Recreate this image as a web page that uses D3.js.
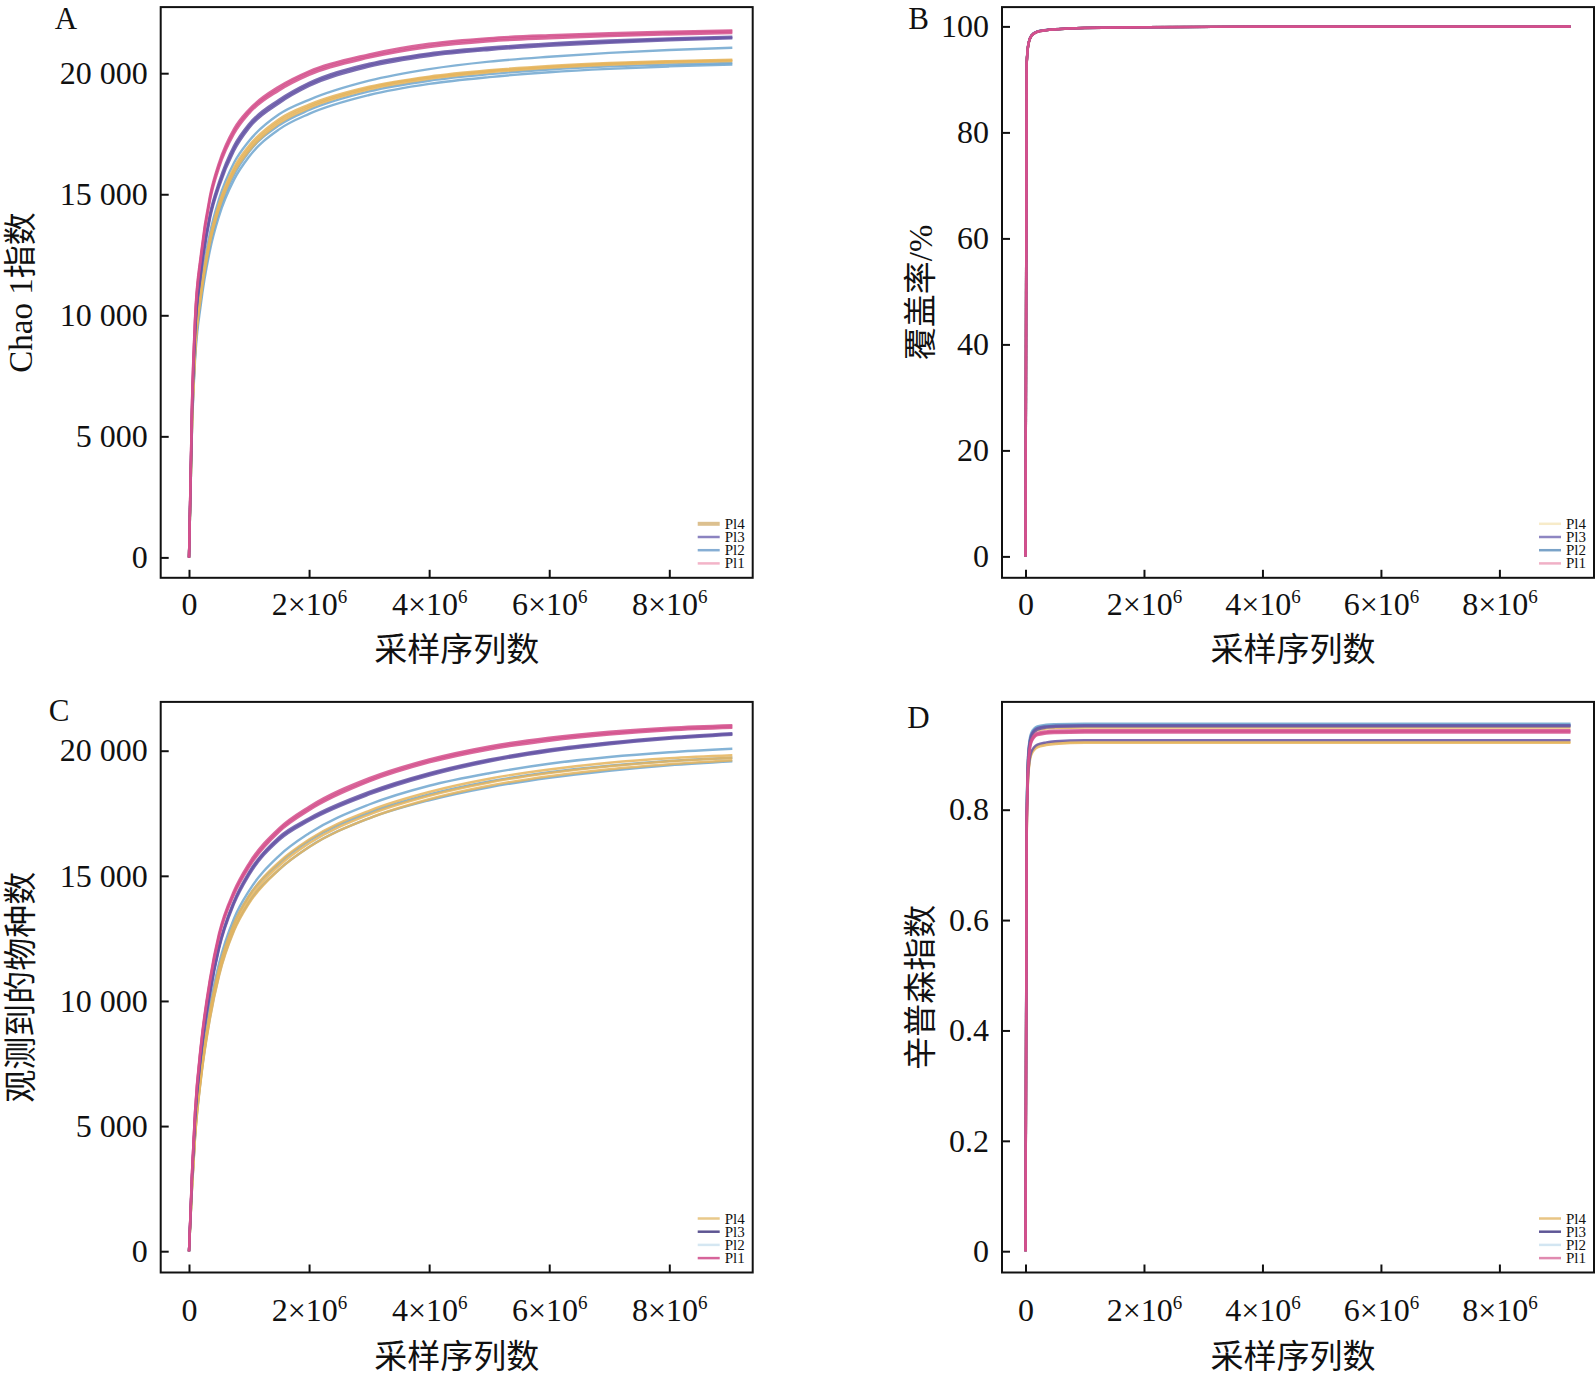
<!DOCTYPE html>
<html>
<head>
<meta charset="utf-8">
<script src="https://cdn.jsdelivr.net/npm/d3@7"></script>
<style>
  body { margin: 0; background: #fff; }
  text { font-family: "Liberation Serif", "Noto Sans CJK SC", serif; fill: #111; }
</style>
</head>
<body>
<script>
// sampling depth (x 10^6 reads)
var depthsAC = [0, 0.05, 0.1, 0.2, 0.35, 0.5, 0.75, 1, 1.5, 2, 3, 4, 5, 6, 7, 8, 9.05];
var depthsBD = [0, 0.02, 0.05, 0.1, 0.2, 0.35, 0.5, 1, 2, 4, 6, 9.2];

var groups = ['Pl4', 'Pl3', 'Pl2', 'Pl1'];

// A - Chao 1
var chaoPl1 = [
  [0, 6500, 9900, 12560, 14950, 16300, 17700, 18500, 19450, 20080, 20780, 21220, 21450, 21570, 21650, 21715, 21770],
  [0, 6400, 9800, 12450, 14850, 16200, 17600, 18420, 19370, 20010, 20710, 21150, 21390, 21510, 21590, 21660, 21720],
  [0, 6300, 9700, 12350, 14750, 16100, 17500, 18340, 19290, 19930, 20640, 21080, 21320, 21440, 21530, 21600, 21660]
];
var chaoPl2 = [
  [0, 5600, 8700, 11200, 13400, 14800, 16300, 17200, 18300, 18900, 19690, 20170, 20480, 20680, 20840, 20960, 21050],
  [0, 5400, 8300, 10700, 12900, 14300, 15800, 16750, 17850, 18480, 19250, 19690, 19960, 20150, 20280, 20360, 20420],
  [0, 5300, 8100, 10500, 12700, 14100, 15600, 16550, 17680, 18320, 19100, 19560, 19840, 20040, 20180, 20280, 20360]
];
var chaoPl3 = [
  [0, 6100, 9300, 11900, 14200, 15500, 17000, 17900, 18900, 19600, 20390, 20820, 21060, 21230, 21350, 21440, 21510],
  [0, 6000, 9200, 11800, 14100, 15400, 16900, 17820, 18830, 19540, 20330, 20770, 21010, 21180, 21300, 21400, 21470],
  [0, 5950, 9150, 11700, 14000, 15300, 16800, 17740, 18760, 19470, 20270, 20710, 20960, 21130, 21260, 21360, 21440]
];
var chaoPl4 = [
  [0, 5500, 8500, 11000, 13200, 14600, 16100, 17000, 18100, 18700, 19440, 19860, 20120, 20300, 20420, 20500, 20560],
  [0, 5450, 8450, 10900, 13100, 14500, 16000, 16900, 18020, 18630, 19390, 19820, 20080, 20260, 20390, 20470, 20530],
  [0, 5400, 8350, 10800, 13000, 14400, 15900, 16800, 17930, 18560, 19330, 19770, 20040, 20220, 20350, 20440, 20500]
];

// B - coverage (%)
var covPl1 = [
  [0, 93.0, 96.8, 98.3, 99.0, 99.3, 99.45, 99.72, 99.86, 99.93, 99.95, 99.97],
  [0, 92.8, 96.7, 98.2, 98.95, 99.28, 99.43, 99.71, 99.85, 99.92, 99.95, 99.96],
  [0, 92.9, 96.7, 98.25, 98.98, 99.3, 99.44, 99.72, 99.86, 99.93, 99.95, 99.97]
];
var covPl2 = [
  [0, 93.2, 96.9, 98.35, 99.05, 99.32, 99.47, 99.73, 99.87, 99.93, 99.96, 99.97],
  [0, 93.0, 96.8, 98.3, 99.0, 99.3, 99.45, 99.72, 99.86, 99.93, 99.95, 99.97],
  [0, 92.7, 96.6, 98.2, 98.95, 99.27, 99.43, 99.7, 99.85, 99.92, 99.95, 99.96]
];
var covPl3 = [
  [0, 93.1, 96.8, 98.3, 99.02, 99.31, 99.46, 99.72, 99.86, 99.93, 99.95, 99.97],
  [0, 92.9, 96.7, 98.25, 98.98, 99.29, 99.44, 99.71, 99.85, 99.92, 99.95, 99.96],
  [0, 92.8, 96.7, 98.22, 98.97, 99.28, 99.44, 99.71, 99.85, 99.92, 99.95, 99.96]
];
var covPl4 = [
  [0, 93.0, 96.8, 98.3, 99.0, 99.3, 99.45, 99.72, 99.86, 99.93, 99.95, 99.97],
  [0, 92.9, 96.7, 98.26, 98.98, 99.29, 99.44, 99.71, 99.86, 99.93, 99.95, 99.97],
  [0, 92.8, 96.6, 98.2, 98.95, 99.27, 99.43, 99.7, 99.85, 99.92, 99.95, 99.96]
];

// C - observed species
var obsPl1 = [
  [0, 3200, 5600, 8300, 10900, 12700, 14400, 15500, 16900, 17760, 18900, 19650, 20170, 20520, 20760, 20920, 21020],
  [0, 3150, 5550, 8230, 10820, 12620, 14320, 15420, 16830, 17690, 18830, 19590, 20110, 20460, 20700, 20870, 20970],
  [0, 3100, 5500, 8170, 10750, 12550, 14250, 15350, 16760, 17620, 18770, 19530, 20050, 20400, 20650, 20820, 20920]
];
var obsPl2 = [
  [0, 2700, 4800, 7300, 9800, 11500, 13300, 14400, 15800, 16700, 17850, 18600, 19100, 19480, 19750, 19940, 20080],
  [0, 2650, 4700, 7150, 9600, 11300, 13100, 14200, 15500, 16400, 17520, 18250, 18770, 19140, 19400, 19590, 19720],
  [0, 2550, 4550, 6950, 9350, 11050, 12850, 13950, 15250, 16150, 17300, 18020, 18540, 18920, 19200, 19420, 19580]
];
var obsPl3 = [
  [0, 3000, 5300, 7900, 10400, 12200, 14000, 15150, 16550, 17300, 18350, 19100, 19650, 20050, 20330, 20540, 20700],
  [0, 2970, 5260, 7850, 10340, 12140, 13940, 15090, 16490, 17250, 18300, 19060, 19610, 20010, 20300, 20510, 20670],
  [0, 2940, 5220, 7800, 10280, 12080, 13880, 15030, 16430, 17200, 18250, 19010, 19570, 19970, 20260, 20480, 20640]
];
var obsPl4 = [
  [0, 2600, 4700, 7100, 9600, 11300, 13100, 14200, 15550, 16450, 17600, 18350, 18880, 19250, 19520, 19700, 19820],
  [0, 2550, 4600, 7000, 9450, 11150, 12950, 14050, 15400, 16300, 17450, 18200, 18730, 19110, 19380, 19580, 19720],
  [0, 2500, 4500, 6900, 9300, 11000, 12800, 13900, 15250, 16150, 17300, 18060, 18600, 18980, 19260, 19460, 19620]
];

// D - Simpson
var simPl1 = [
  [0, 0.77, 0.89, 0.927, 0.939, 0.942, 0.943, 0.944, 0.944, 0.944, 0.944, 0.944],
  [0, 0.77, 0.885, 0.924, 0.937, 0.940, 0.941, 0.942, 0.942, 0.942, 0.942, 0.942],
  [0, 0.76, 0.88, 0.922, 0.935, 0.938, 0.939, 0.940, 0.940, 0.940, 0.940, 0.940]
];
var simPl2 = [
  [0, 0.80, 0.91, 0.94, 0.951, 0.954, 0.955, 0.956, 0.956, 0.956, 0.956, 0.956],
  [0, 0.79, 0.905, 0.937, 0.949, 0.952, 0.953, 0.954, 0.954, 0.954, 0.954, 0.954],
  [0, 0.79, 0.90, 0.935, 0.947, 0.950, 0.951, 0.952, 0.952, 0.952, 0.952, 0.952]
];
var simPl3 = [
  [0, 0.79, 0.905, 0.936, 0.948, 0.951, 0.952, 0.953, 0.953, 0.953, 0.953, 0.953],
  [0, 0.78, 0.90, 0.933, 0.945, 0.949, 0.950, 0.951, 0.951, 0.951, 0.951, 0.951],
  [0, 0.75, 0.87, 0.905, 0.918, 0.922, 0.924, 0.926, 0.926, 0.926, 0.926, 0.926]
];
var simPl4 = [
  [0, 0.78, 0.90, 0.932, 0.944, 0.947, 0.948, 0.949, 0.949, 0.949, 0.949, 0.949],
  [0, 0.74, 0.865, 0.900, 0.913, 0.917, 0.919, 0.921, 0.921, 0.921, 0.921, 0.921],
  [0, 0.745, 0.868, 0.903, 0.916, 0.920, 0.922, 0.923, 0.923, 0.923, 0.923, 0.923]
];

// ticks
var xTicks = [0, 2, 4, 6, 8];
var chaoTicks = [0, 5000, 10000, 15000, 20000];
var chaoLabels = ['0', '5 000', '10 000', '15 000', '20 000'];
var covTicks = [0, 20, 40, 60, 80, 100];
var covLabels = ['0', '20', '40', '60', '80', '100'];
var simTicks = [0, 0.2, 0.4, 0.6, 0.8];
var simLabels = ['0', '0.2', '0.4', '0.6', '0.8'];

var lineColors = { Pl1: '#d4508c', Pl2: '#6ea6cf', Pl3: '#6656a6', Pl4: '#e5b45c' };

var svg = d3.select('body').append('svg')
  .attr('width', 1595)
  .attr('height', 1378);

var panels = [
  { tag: 'A', l: 160.7, r: 752.7, t: 7.1, b: 577.8, x0: 189, x8: 669.3, y0: 557.4, yTop: 73.2,
    depths: depthsAC, series: { Pl1: chaoPl1, Pl2: chaoPl2, Pl3: chaoPl3, Pl4: chaoPl4 },
    ticks: chaoTicks, labels: chaoLabels, ytitle: 'Chao 1指数', tagX: 66, tagY: 29, lowShift: 0,
    legend: { Pl4: ['#dcc08f', 4], Pl3: ['#8b83c0', 2.5], Pl2: ['#86aed4', 2.5], Pl1: ['#f3b4c8', 2.5] } },
  { tag: 'B', l: 1002, r: 1594, t: 7.1, b: 577.8, x0: 1025.5, x8: 1499.4, y0: 556.4, yTop: 26.4,
    depths: depthsBD, series: { Pl1: covPl1, Pl2: covPl2, Pl3: covPl3, Pl4: covPl4 },
    ticks: covTicks, labels: covLabels, ytitle: '覆盖率/%', tagX: 918.5, tagY: 29, lowShift: 0,
    legend: { Pl4: ['#f7ebc9', 2.5], Pl3: ['#8e86c2', 2.5], Pl2: ['#7aa3c8', 2.5], Pl1: ['#f0b0c6', 2.5] } },
  { tag: 'C', l: 160.7, r: 752.7, t: 701.9, b: 1272.5, x0: 189, x8: 669.3, y0: 1251.2, yTop: 750.7,
    depths: depthsAC, series: { Pl1: obsPl1, Pl2: obsPl2, Pl3: obsPl3, Pl4: obsPl4 },
    ticks: chaoTicks, labels: chaoLabels, ytitle: '观测到的物种数', tagX: 59, tagY: 721, lowShift: 12,
    legend: { Pl4: ['#e9c98a', 2.5], Pl3: ['#5d5592', 2.5], Pl2: ['#d5e7f2', 2.5], Pl1: ['#d6649a', 2.5] } },
  { tag: 'D', l: 1002, r: 1594, t: 701.9, b: 1272.5, x0: 1025.5, x8: 1499.4, y0: 1251.2, yTop: 809.7,
    depths: depthsBD, series: { Pl1: simPl1, Pl2: simPl2, Pl3: simPl3, Pl4: simPl4 },
    ticks: simTicks, labels: simLabels, ytitle: '辛普森指数', tagX: 918.5, tagY: 728, lowShift: 12,
    legend: { Pl4: ['#e8c584', 2.5], Pl3: ['#5e5696', 2.5], Pl2: ['#d3e6f2', 2.5], Pl1: ['#e08ab0', 2.5] } }
];

panels.forEach(function (p, pi) {
  var x = d3.scaleLinear().domain([0, 8]).range([p.x0, p.x8]);
  var topTick = p.ticks[p.ticks.length - 1];
  var y = d3.scaleLinear().domain([0, topTick]).range([p.y0, p.yTop]);

  var g = svg.append('g');

  svg.append('clipPath').attr('id', 'clip' + pi)
    .append('rect')
    .attr('x', p.l).attr('y', p.t)
    .attr('width', p.r - p.l).attr('height', p.b - p.t);

  var line = d3.line()
    .x(function (d, i) { return x(p.depths[i]); })
    .y(function (d) { return y(d); })
    .curve(d3.curveMonotoneX);

  // draw order: blue, orange, purple, pink on top
  var curves = g.append('g').attr('clip-path', 'url(#clip' + pi + ')');
  ['Pl2', 'Pl4', 'Pl3', 'Pl1'].forEach(function (k) {
    curves.selectAll(null)
      .data(p.series[k])
      .enter()
      .append('path')
      .attr('d', line)
      .attr('fill', 'none')
      .attr('stroke', lineColors[k])
      .attr('stroke-width', 2.4)
      .attr('stroke-opacity', 0.85);
  });

  // y axis, ticks pointing in
  var yAxis = d3.axisLeft(y)
    .tickValues(p.ticks)
    .tickFormat(function (d, i) { return p.labels[i]; })
    .tickSizeInner(-8).tickSizeOuter(0).tickPadding(13);
  var ya = g.append('g').attr('transform', 'translate(' + p.l + ',0)').call(yAxis);
  ya.select('.domain').remove();
  ya.selectAll('line').attr('stroke', '#111').attr('stroke-width', 2);
  ya.selectAll('text').attr('font-size', 32).attr('fill', '#111')
    .style('font-family', '"Liberation Serif", serif');

  // x axis
  var xAxis = d3.axisBottom(x)
    .tickValues(xTicks)
    .tickFormat('')
    .tickSizeInner(-8).tickSizeOuter(0).tickPadding(14 + p.lowShift);
  var xa = g.append('g').attr('transform', 'translate(0,' + p.b + ')').call(xAxis);
  xa.select('.domain').remove();
  xa.selectAll('line').attr('stroke', '#111').attr('stroke-width', 2);
  xa.selectAll('.tick text').each(function (d) {
    var t = d3.select(this)
      .attr('font-size', 32).attr('fill', '#111')
      .style('font-family', '"Liberation Serif", serif');
    if (d === 0) {
      t.text('0');
    } else {
      t.append('tspan').text(d + '×10');
      t.append('tspan').attr('dy', -12).attr('font-size', 19).text('6');
    }
  });

  // frame
  g.append('rect')
    .attr('x', p.l).attr('y', p.t)
    .attr('width', p.r - p.l).attr('height', p.b - p.t)
    .attr('fill', 'none').attr('stroke', '#111').attr('stroke-width', 2);

  // legend
  var legX = p.r - 55;
  var legY = p.b - 54;
  groups.forEach(function (k, i) {
    var yy = legY + i * 13.2;
    g.append('line')
      .attr('x1', legX).attr('x2', legX + 22)
      .attr('y1', yy).attr('y2', yy)
      .attr('stroke', p.legend[k][0])
      .attr('stroke-width', p.legend[k][1]);
    g.append('text')
      .attr('x', legX + 27).attr('y', yy + 5)
      .attr('font-size', 15)
      .text(k);
  });

  // axis titles
  var midX = (p.l + p.r) / 2;
  var titleX = p.tag === 'A' || p.tag === 'C' ? midX : midX - 5;
  g.append('text')
    .attr('x', titleX)
    .attr('y', p.b + 83 + p.lowShift)
    .attr('text-anchor', 'middle')
    .attr('font-size', 33)
    .text('采样序列数');

  var midY = (p.t + p.b) / 2;
  var tx = p.tag === 'A' || p.tag === 'C' ? 32 : 932;
  g.append('text')
    .attr('transform', 'translate(' + tx + ',' + midY + ') rotate(-90)')
    .attr('text-anchor', 'middle')
    .attr('font-size', 33)
    .text(p.ytitle);

  // panel letter
  g.append('text')
    .attr('x', p.tagX).attr('y', p.tagY)
    .attr('text-anchor', 'middle')
    .attr('font-size', 31)
    .text(p.tag);
});
</script>
</body>
</html>
